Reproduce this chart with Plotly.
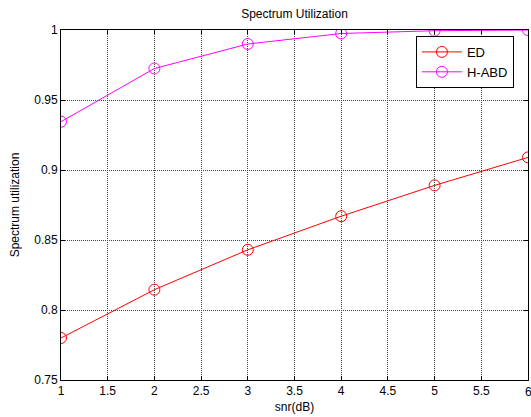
import plotly.graph_objects as go

snr = [1, 2, 3, 4, 5, 6]
ed = [0.780, 0.8145, 0.843, 0.867, 0.889, 0.909]
habd = [0.9345, 0.9725, 0.990, 0.9975, 0.9995, 1.0]
x_ticks = [1, 1.5, 2, 2.5, 3, 3.5, 4, 4.5, 5, 5.5, 6]
y_ticks = [0.75, 0.8, 0.85, 0.9, 0.95, 1]

font = "Liberation Sans, Arial, sans-serif"

fig = go.Figure()
fig.add_trace(go.Scatter(x=snr, y=ed, name="ED", mode="lines+markers",
                         line=dict(color="#ff0000", width=1),
                         marker=dict(symbol="circle-open", size=11, color="#ff0000", line=dict(width=1))))
fig.add_trace(go.Scatter(x=snr, y=habd, name="H-ABD", mode="lines+markers",
                         line=dict(color="#ff00ff", width=1),
                         marker=dict(symbol="circle-open", size=11, color="#ff00ff", line=dict(width=1))))

axis_common = dict(showline=True, linecolor="black", linewidth=1, mirror="ticks",
                   ticks="inside", ticklen=4, tickcolor="black",
                   showgrid=True, gridcolor="#444444", griddash="1px,1px", gridwidth=1,
                   zeroline=False, tickfont=dict(family=font, size=12, color="black"))

fig.update_layout(
    width=531, height=417,
    margin=dict(l=61, r=3, t=30, b=37),
    paper_bgcolor="white", plot_bgcolor="white",
    title=dict(text="Spectrum Utilization", x=(61 + 528) / 2 / 531, xanchor="center",
               y=1 - 14 / 417, yanchor="middle", font=dict(family=font, size=12, color="black")),
    xaxis=dict(range=[1, 6], tickvals=x_ticks, ticktext=[str(v) for v in x_ticks],
               title=dict(text="snr(dB)", standoff=5, font=dict(family=font, size=12, color="black")),
               **axis_common),
    yaxis=dict(range=[0.75, 1], tickvals=y_ticks, ticktext=[str(v) for v in y_ticks],
               title=dict(text="Spectrum utilization", standoff=12, font=dict(family=font, size=12, color="black")),
               **axis_common),
    legend=dict(x=0.76, y=0.983, xanchor="left", yanchor="top",
                bgcolor="white", bordercolor="black", borderwidth=1,
                font=dict(family=font, size=13, color="black"),
                tracegroupgap=0, itemwidth=40),
    showlegend=True,
)

# last x tick label sits at the page edge (plotly hides overflowing tick labels)
fig.add_annotation(x=x_ticks[-1], y=0, xref="x", yref="paper", text=str(x_ticks[-1]),
                   showarrow=False, yanchor="top", yshift=-3,
                   font=dict(family=font, size=12, color="black"))

fig.write_html("out.html")
